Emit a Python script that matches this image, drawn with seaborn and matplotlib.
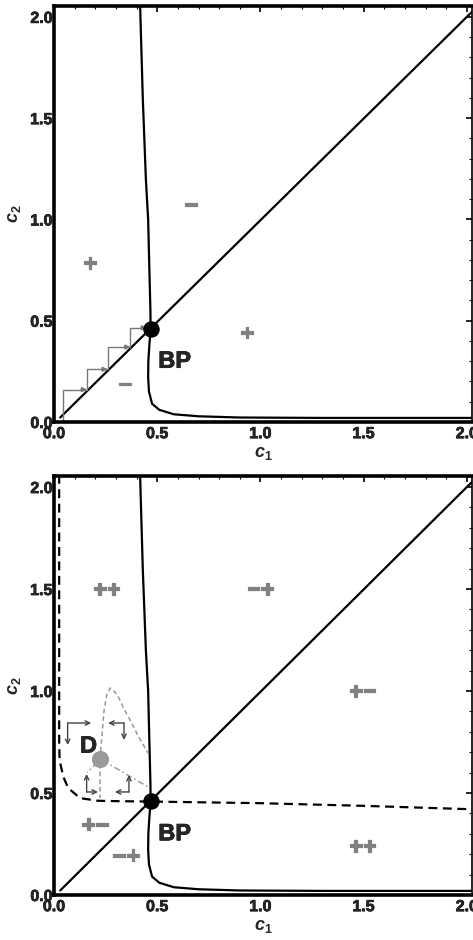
import numpy as np
import seaborn as sns
import matplotlib.pyplot as plt
import matplotlib.patheffects as pe
from matplotlib.ticker import MultipleLocator

sns.set_theme(style="white")
plt.rcParams['font.family'] = ['Liberation Sans', 'DejaVu Sans']
plt.rcParams['font.weight'] = 'bold'
plt.rcParams['mathtext.fontset'] = 'custom'
plt.rcParams['mathtext.it'] = 'Liberation Sans:italic:bold'
plt.rcParams['mathtext.rm'] = 'Liberation Sans:bold'

# diagonal c2 = c1
diag_x = [0.03, 2.03]
diag_y = [0.022, 2.03]

# nullcline through the branch point
null_x = [0.417, 0.43, 0.445, 0.456, 0.462, 0.467, 0.468, 0.462, 0.457, 0.456, 0.46, 0.475,
          0.51, 0.58, 0.7, 0.9, 1.3, 2.03]
null_y = [2.06, 1.6, 1.2, 1.0, 0.75, 0.55, 0.46, 0.38, 0.3, 0.22, 0.15, 0.09,
          0.06, 0.038, 0.028, 0.022, 0.02, 0.02]
bp_x, bp_y = 0.468, 0.46

# cobweb staircase (top panel)
step_x = [0.045, 0.045, 0.16, 0.16, 0.26, 0.26, 0.37, 0.37, 0.45]
step_y = [0.0, 0.16, 0.16, 0.26, 0.26, 0.37, 0.37, 0.465, 0.465]

# sign labels
top_signs = ["\u2212", "+", "\u2212", "+"]
top_sx = [0.665, 0.175, 0.345, 0.935]
top_sy = [1.067, 0.78, 0.18, 0.435]
bot_signs = ["++", "\u2212+", "+\u2212", "+\u2212", "\u2212+", "++"]
bot_sx = [0.255, 1.0, 1.495, 0.2, 0.35, 1.495]
bot_sy = [1.495, 1.495, 0.995, 0.34, 0.187, 0.235]

# dashed black separatrix (bottom panel)
sep_x = [0.025, 0.025, 0.027, 0.045, 0.068, 0.126, 0.21, 0.3, 0.47, 1.0, 1.5, 2.03]
sep_y = [2.06, 0.75, 0.66, 0.58, 0.525, 0.475, 0.462, 0.46, 0.458, 0.45, 0.437, 0.42]

# grey loop around D
d_x, d_y = 0.223, 0.667
loop_x = [0.223, 0.232, 0.242, 0.255, 0.272, 0.29, 0.31, 0.335, 0.368, 0.41, 0.455]
loop_y = [0.667, 0.78, 0.9, 0.98, 1.015, 1.0, 0.975, 0.92, 0.858, 0.775, 0.696]
vdash_x = [0.223, 0.223]
vdash_y = [0.64, 0.475]
dd_right_x = [0.235, 0.455]
dd_right_y = [0.66, 0.53]
dd_left_x = [0.21, 0.16]
dd_left_y = [0.65, 0.6]

# corner arrows: corner, horizontal tip x, vertical tip y
corner_x = [0.066, 0.339, 0.158, 0.363]
corner_y = [0.843, 0.843, 0.505, 0.505]
tip_hx = [0.18, 0.262, 0.213, 0.295]
tip_vy = [0.735, 0.76, 0.593, 0.588]

fig = plt.figure(figsize=(4.73, 9.4), dpi=100)
ax_top = fig.add_axes([0.1142, 0.5511, 0.8837, 0.4426])
ax_bot = fig.add_axes([0.1142, 0.0479, 0.8837, 0.4457])

heavy_grey = [pe.withStroke(linewidth=0.9, foreground='#808080')]
heavy_black = [pe.withStroke(linewidth=0.5, foreground='black')]


def line(ax, x, y, **kw):
    sns.lineplot(x=x, y=y, sort=False, estimator=None, ax=ax, **kw)


def style_axes(ax):
    ax.set_xlim(0, 2.025)
    ax.set_ylim(0, 2.054)
    ax.xaxis.set_major_locator(MultipleLocator(0.5))
    ax.yaxis.set_major_locator(MultipleLocator(0.5))
    ax.xaxis.set_minor_locator(MultipleLocator(0.1))
    ax.yaxis.set_minor_locator(MultipleLocator(0.1))
    ax.xaxis.set_major_formatter(plt.FormatStrFormatter('%.1f'))
    ax.yaxis.set_major_formatter(plt.FormatStrFormatter('%.1f'))
    ax.tick_params(which='both', direction='in', top=True, right=True, color='black')
    ax.tick_params(which='major', length=4, width=1.2, labelsize=11.5, pad=1)
    ax.tick_params(which='minor', length=2, width=0.8)
    ax.tick_params(axis='x', which='major', pad=3)
    for lab in ax.get_xticklabels() + ax.get_yticklabels():
        lab.set_fontweight('bold')
        lab.set_path_effects([pe.withStroke(linewidth=0.5, foreground='black')])
    for side in ['left', 'top', 'bottom']:
        ax.spines[side].set_linewidth(2.6)
        ax.spines[side].set_color('black')
    ax.spines['right'].set_linewidth(1.2)
    ax.spines['right'].set_color('black')
    ax.set_xlabel('$c_1$', fontsize=13, labelpad=3)
    ax.set_ylabel('$c_2$', fontsize=13, labelpad=5)


for ax in [ax_top, ax_bot]:
    line(ax, diag_x, diag_y, color='black', lw=1.6)
    line(ax, null_x, null_y, color='black', lw=1.6)

# top panel
line(ax_top, step_x, step_y, color='#777777', lw=1.0)
for i in range(1, len(step_x) - 1, 2):
    ax_top.annotate('', xy=(step_x[i + 1], step_y[i + 1]),
                    xytext=(step_x[i + 1] - 0.03, step_y[i + 1]),
                    arrowprops=dict(arrowstyle='-|>', color='#777777', lw=1.0,
                                    mutation_scale=7, shrinkA=0, shrinkB=0))
for s, x, y in zip(top_signs, top_sx, top_sy):
    ax_top.text(x, y, s, color='#808080', fontsize=17, fontweight='bold',
                ha='center', va='center', path_effects=heavy_grey)
sns.scatterplot(x=[bp_x], y=[bp_y], color='black', s=120, edgecolor='black',
                zorder=5, ax=ax_top)
ax_top.text(0.505, 0.30, 'BP', fontsize=17, fontweight='bold', ha='left', va='center',
            path_effects=heavy_black)

# bottom panel
line(ax_bot, sep_x, sep_y, color='black', lw=1.6, linestyle=(0, (4, 2.5)))
line(ax_bot, loop_x, loop_y, color='#999999', lw=1.1, linestyle=(0, (3, 2)))
line(ax_bot, vdash_x, vdash_y, color='#999999', lw=1.1, linestyle=(0, (3, 2)))
line(ax_bot, dd_right_x, dd_right_y, color='#999999', lw=1.1, linestyle=(0, (4, 2, 1, 2)))
line(ax_bot, dd_left_x, dd_left_y, color='#999999', lw=1.1, linestyle=(0, (4, 2, 1, 2)))
for cx, cy, hx, vy in zip(corner_x, corner_y, tip_hx, tip_vy):
    for tip in [(hx, cy), (cx, vy)]:
        ax_bot.annotate('', xy=tip, xytext=(cx, cy),
                        arrowprops=dict(arrowstyle='->', color='#444444', lw=1.0,
                                        mutation_scale=8, shrinkA=0, shrinkB=0))
for s, x, y in zip(bot_signs, bot_sx, bot_sy):
    ax_bot.text(x, y, s, color='#808080', fontsize=17, fontweight='bold',
                ha='center', va='center', path_effects=heavy_grey)
sns.scatterplot(x=[d_x], y=[d_y], color='#999999', s=130, edgecolor='#999999',
                zorder=5, ax=ax_bot)
ax_bot.text(0.126, 0.73, 'D', fontsize=17, fontweight='bold', ha='left', va='center',
            path_effects=heavy_black)
sns.scatterplot(x=[bp_x], y=[bp_y], color='black', s=120, edgecolor='black',
                zorder=5, ax=ax_bot)
ax_bot.text(0.505, 0.30, 'BP', fontsize=17, fontweight='bold', ha='left', va='center',
            path_effects=heavy_black)

for ax in [ax_top, ax_bot]:
    style_axes(ax)

fig.savefig('out.png', dpi=100)
